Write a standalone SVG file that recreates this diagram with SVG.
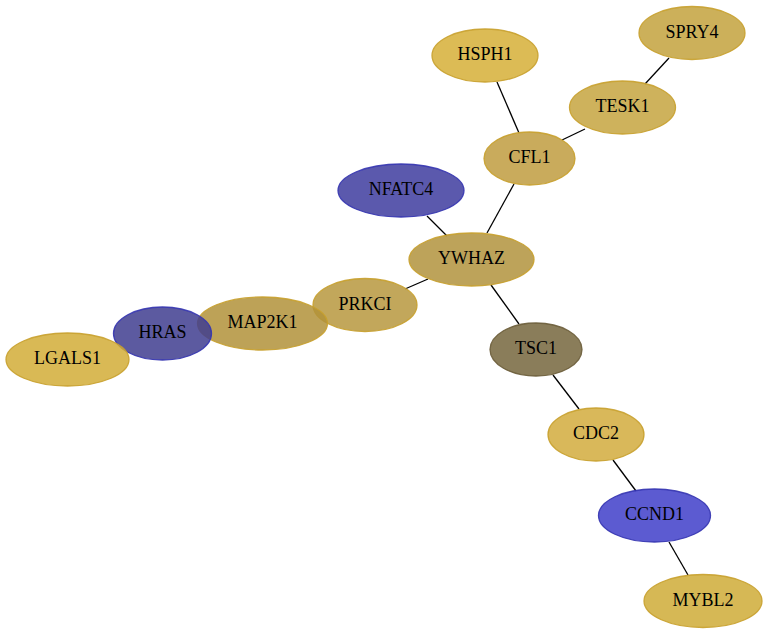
<svg xmlns="http://www.w3.org/2000/svg" width="768" height="635" viewBox="0 0 768 635">
<style>
.bg{fill:#ffffff}
.e{stroke:#000000;stroke-width:1.3;fill:none}
.n ellipse{fill-opacity:0.85;stroke-width:1.3;stroke-opacity:0.9}
.g ellipse{stroke:#c8a02c}
.b ellipse{stroke:#3434b0}
.d ellipse{stroke:#6a5c38}
.n text{font-family:"Liberation Serif","Times New Roman",serif;font-size:18px;fill:#000000;text-anchor:middle}
</style>
<rect class="bg" x="0" y="0" width="768" height="635"/>
<g id="edges">
<line class="e" x1="497" y1="82" x2="519" y2="133"/>
<line class="e" x1="669" y1="58" x2="645" y2="84"/>
<line class="e" x1="585" y1="129" x2="562" y2="140"/>
<line class="e" x1="514" y1="184" x2="487" y2="233"/>
<line class="e" x1="427" y1="216" x2="447" y2="236"/>
<line class="e" x1="428" y1="279" x2="405" y2="289"/>
<line class="e" x1="491" y1="285" x2="519" y2="324"/>
<line class="e" x1="553" y1="375" x2="579" y2="409"/>
<line class="e" x1="613" y1="460" x2="636" y2="491"/>
<line class="e" x1="669" y1="542" x2="688" y2="575"/>
</g>
<g id="HSPH1" class="n g"><ellipse cx="485" cy="55.5" rx="53" ry="26.5" fill="#d6af37"/><text x="485" y="60">HSPH1</text></g>
<g id="SPRY4" class="n g"><ellipse cx="692" cy="33" rx="53" ry="26.5" fill="#c3a23d"/><text x="692" y="37.5">SPRY4</text></g>
<g id="TESK1" class="n g"><ellipse cx="622.5" cy="107.5" rx="53" ry="26.5" fill="#c5a43f"/><text x="622.5" y="112">TESK1</text></g>
<g id="CFL1" class="n g"><ellipse cx="529.5" cy="158.5" rx="45.5" ry="26.5" fill="#bf9c3f"/><text x="529.5" y="163">CFL1</text></g>
<g id="NFATC4" class="n b"><ellipse cx="401" cy="190.5" rx="63" ry="26.5" fill="#3e3c9f"/><text x="401" y="195">NFATC4</text></g>
<g id="YWHAZ" class="n g"><ellipse cx="471.5" cy="259.5" rx="62.5" ry="26.5" fill="#b2933d"/><text x="471.5" y="264">YWHAZ</text></g>
<g id="PRKCI" class="n g"><ellipse cx="365" cy="305" rx="52" ry="26.5" fill="#b7983e"/><text x="365" y="309.5">PRKCI</text></g>
<g id="MAP2K1" class="n g"><ellipse cx="262.5" cy="323.5" rx="65" ry="26.5" fill="#b19239"/><text x="262.5" y="328">MAP2K1</text></g>
<g id="HRAS" class="n b"><ellipse cx="162.5" cy="333.5" rx="49" ry="26.5" fill="#3f3d8f"/><text x="162.5" y="338">HRAS</text></g>
<g id="LGALS1" class="n g"><ellipse cx="67.5" cy="359.5" rx="61.5" ry="26.5" fill="#d2ad37"/><text x="67.5" y="364">LGALS1</text></g>
<g id="TSC1" class="n d"><ellipse cx="536" cy="349.5" rx="46" ry="26.5" fill="#75663d"/><text x="536" y="354">TSC1</text></g>
<g id="CDC2" class="n g"><ellipse cx="596" cy="434.5" rx="48" ry="26.5" fill="#d2ac3d"/><text x="596" y="439">CDC2</text></g>
<g id="CCND1" class="n b"><ellipse cx="654.5" cy="515.5" rx="56" ry="26.5" fill="#3f3ec9"/><text x="654.5" y="520">CCND1</text></g>
<g id="MYBL2" class="n g"><ellipse cx="703" cy="601" rx="59" ry="26.5" fill="#cfac37"/><text x="703" y="605.5">MYBL2</text></g>
</svg>
